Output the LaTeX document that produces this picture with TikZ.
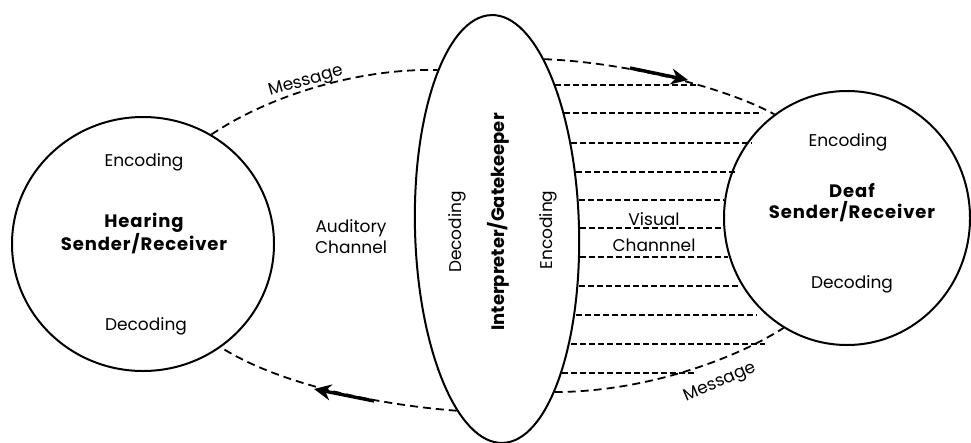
\documentclass[tikz,border=0pt]{standalone}
\usepackage{fontspec}
\setmainfont{Poppins}
\usetikzlibrary{shapes.geometric,arrows.meta}
\newcommand\diagfont{\fontsize{17}{21}\selectfont}
\newcommand\namefont{\fontsize{18}{21}\selectfont\bfseries\addfontfeatures{LetterSpace=5}}
\begin{document}
\begin{tikzpicture}[x=1pt, y=-1pt,
    every node/.style={font=\diagfont, align=center, inner sep=0pt},
    party/.style={draw, ellipse, line width=2pt},
    msg/.style={line width=1.8pt, dash pattern=on 8pt off 5pt},
    hatch/.style={line width=1.6pt, dash pattern=on 6pt off 3pt},
    flow/.style={line width=3.4pt, -{Stealth[length=17pt, width=16pt]}}]
    \useasboundingbox (0,0) rectangle (971,442);
    \node[party, minimum width=262pt, minimum height=254pt] (hearing) at (143,244) {};
    \node[party, minimum width=246pt, minimum height=254pt] (deaf) at (847,218) {};
    \node[party, minimum width=164pt, minimum height=428pt, rotate=1.5] (gate) at (497,229) {};
    \node (henc) at (144,162) {Encoding};
    \node[font=\namefont] (hname) at (144,233) {Hearing\\Sender/Receiver};
    \node (hdec) at (146,326) {Decoding};
    \node (aud) at (351,237) {Auditory\\Channel};
    \node[rotate=90] (gdec) at (457,232) {Decoding};
    \node[rotate=90, font=\fontsize{18}{21}\selectfont\bfseries] (gname) at (498,222) {Interpreter/Gatekeeper};
    \node[rotate=90] (genc) at (548,230) {Encoding};
    \node (denc) at (848,142) {Encoding};
    \node[font=\namefont] (dname) at (852,203) {Deaf\\Sender/Receiver};
    \node (ddec) at (852,284) {Decoding};
    \node (vis) at (654,219) {Visual};
    \node (chan) at (654,245) {Channnel};
    \node[rotate=16] (mtop) at (306,82) {Message};
    \node[rotate=23] (mbot) at (720,383) {Message};
    \draw[msg] (hearing.58) .. controls (270,95) and (360,68) .. (gate.109);
    \draw[msg] (gate.73) .. controls (620,62) and (720,85) .. (deaf.125);
    \draw[msg] (gate.256) .. controls (380,405) and (280,385) .. (hearing.-53);
    \draw[msg] (gate.-72) .. controls (640,392) and (730,362) .. (deaf.240);
    \coordinate (toptail) at (630,68);
    \coordinate (tophead) at (688,80);
    \coordinate (bottail) at (374,401);
    \coordinate (bothead) at (314,389);
    \draw[flow] (toptail) -- (tophead);
    \draw[flow] (bottail) -- (bothead);
    \foreach \yy/\xl/\xr in {85/555/698, 113/564/762, 143/571/752, 172/576/735, 200/579/724, 228/580/724, 257/580/728, 286/579/738, 315/576/757, 344/571/765, 373/562/696}
        \draw[hatch] (\xl,\yy) -- (\xr,\yy);
\end{tikzpicture}
\end{document}
